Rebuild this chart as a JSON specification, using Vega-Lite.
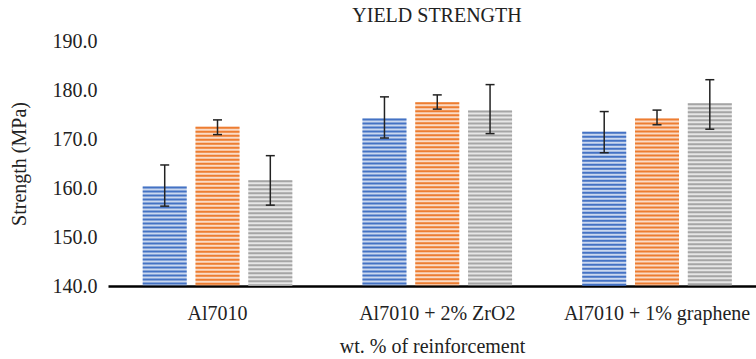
{
  "$schema": "https://vega.github.io/schema/vega-lite/v6.json",
  "width": 648,
  "height": 245,
  "autosize": {"type": "none"},
  "padding": {"left": 108, "top": 41, "right": 0, "bottom": 73},
  "background": "white",
  "title": {
    "text": "YIELD STRENGTH",
    "font": "Liberation Serif",
    "fontSize": 20,
    "fontWeight": "normal",
    "color": "#222222",
    "anchor": "middle",
    "dx": 5,
    "offset": 5
  },
  "data": {
    "values": [
      {"group": "Al7010", "series": "Sample 1", "value": 160.3, "lo": 156.3, "hi": 164.7},
      {"group": "Al7010", "series": "Sample 2", "value": 172.5, "lo": 170.9, "hi": 173.9},
      {"group": "Al7010", "series": "Sample 3", "value": 161.6, "lo": 156.5, "hi": 166.6},
      {"group": "Al7010 + 2% ZrO2", "series": "Sample 1", "value": 174.2, "lo": 170.2, "hi": 178.6},
      {"group": "Al7010 + 2% ZrO2", "series": "Sample 2", "value": 177.5, "lo": 176.1, "hi": 179.0},
      {"group": "Al7010 + 2% ZrO2", "series": "Sample 3", "value": 175.8, "lo": 171.1, "hi": 181.1},
      {"group": "Al7010 + 1% graphene", "series": "Sample 1", "value": 171.5, "lo": 167.2, "hi": 175.6},
      {"group": "Al7010 + 1% graphene", "series": "Sample 2", "value": 174.2, "lo": 172.9, "hi": 175.9},
      {"group": "Al7010 + 1% graphene", "series": "Sample 3", "value": 177.3, "lo": 172.0, "hi": 182.1}
    ]
  },
  "encoding": {
    "x": {
      "field": "group",
      "type": "nominal",
      "sort": null,
      "scale": {"paddingInner": 0.2792, "paddingOuter": 0.114, "align": 0.605},
      "axis": {
        "title": "wt. % of reinforcement",
        "labelAngle": 0,
        "labelLimit": 0,
        "labelOverlap": false,
        "labelBound": false,
        "labelFlush": false,
        "ticks": false,
        "tickSize": 0,
        "domainColor": "#000000",
        "domainWidth": 2.5,
        "labelPadding": 17,
        "labelFont": "Liberation Serif",
        "labelFontSize": 20,
        "labelColor": "#222222",
        "titleFont": "Liberation Serif",
        "titleFontSize": 20,
        "titleFontWeight": "normal",
        "titleColor": "#222222",
        "titlePadding": 13
      }
    },
    "xOffset": {
      "field": "series",
      "type": "nominal",
      "sort": null,
      "scale": {"paddingInner": 0.1667, "paddingOuter": 0.0833}
    }
  },
  "layer": [
    {
      "mark": {"type": "bar", "opacity": 0.28},
      "encoding": {
        "y": {
          "field": "value",
          "type": "quantitative",
          "scale": {"domain": [140, 190], "nice": false, "zero": false},
          "axis": {
            "title": "Strength (MPa)",
            "values": [140, 150, 160, 170, 180, 190],
            "format": ".1f",
            "domain": false,
            "ticks": false,
            "tickSize": 0,
            "grid": false,
            "labelPadding": 11,
            "labelFont": "Liberation Serif",
            "labelFontSize": 20,
            "labelColor": "#222222",
            "titleFont": "Liberation Serif",
            "titleFontSize": 20,
            "titleFontWeight": "normal",
            "titleColor": "#222222",
            "titlePadding": 23
          }
        },
        "y2": {"datum": 140},
        "color": {
          "field": "series",
          "type": "nominal",
          "sort": null,
          "scale": {"range": ["#4472C4", "#ED7D31", "#A5A5A5"]},
          "legend": null
        }
      }
    },
    {
      "mark": {"type": "rule", "strokeWidth": 44, "strokeDash": [2, 2], "strokeCap": "butt"},
      "encoding": {
        "y": {"field": "value", "type": "quantitative"},
        "y2": {"datum": 140},
        "color": {"field": "series", "type": "nominal", "sort": null, "legend": null}
      }
    },
    {
      "mark": {"type": "rule", "strokeWidth": 1.5, "color": "#222222"},
      "encoding": {
        "y": {"field": "lo", "type": "quantitative"},
        "y2": {"field": "hi"}
      }
    },
    {
      "mark": {"type": "tick", "size": 9, "thickness": 1.5, "color": "#222222", "orient": "horizontal"},
      "encoding": {
        "y": {"field": "lo", "type": "quantitative"}
      }
    },
    {
      "mark": {"type": "tick", "size": 9, "thickness": 1.5, "color": "#222222", "orient": "horizontal"},
      "encoding": {
        "y": {"field": "hi", "type": "quantitative"}
      }
    }
  ],
  "config": {
    "view": {"stroke": null},
    "tick": {"opacity": 1}
  }
}
